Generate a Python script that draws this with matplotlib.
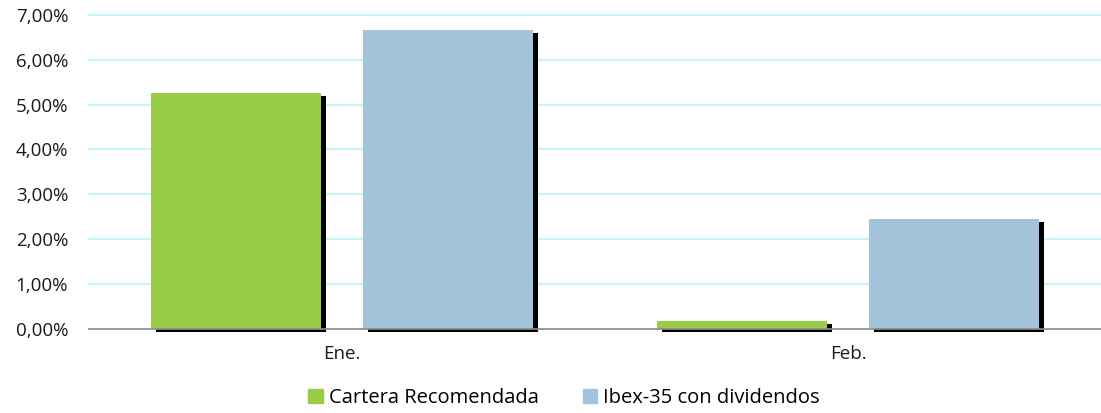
import numpy as np
import matplotlib
matplotlib.use("Agg")
import matplotlib.pyplot as plt
import matplotlib.patheffects as pe
from matplotlib.ticker import FuncFormatter

## Data
categories = ["Ene.", "Feb."]
series_names = ["Cartera Recomendada", "Ibex-35 con dividendos"]
cartera = [5.25, 0.18]
ibex = [6.67, 2.45]
y_ticks = [0, 1, 2, 3, 4, 5, 6, 7]

## Style
green, blue = "#9acd47", "#a3c4da"
plt.rcParams['font.family'] = ['Open Sans', 'DejaVu Sans']

fig = plt.figure(figsize=(11.01, 4.13), dpi=100)
ax = fig.add_axes([0.0808, 0.2044, 0.9192, 0.7593])

x = np.arange(len(categories))
width, offset = 0.336, 0.21
shadow = [pe.SimplePatchShadow(offset=(3.6, -2.2), shadow_rgbFace='black', alpha=1.0), pe.Normal()]
for vals, col, sign in [(cartera, green, -1), (ibex, blue, 1)]:
    bars = ax.bar(x + sign * offset, vals, width, color=col, zorder=2, clip_on=False)
    for b in bars:
        b.set_path_effects(shadow)

ax.set_xlim(-0.5, 1.5)
ax.set_ylim(0, 7)
ax.set_yticks(y_ticks)
ax.yaxis.set_major_formatter(FuncFormatter(lambda v, p: f"{v:.2f}%".replace(".", ",")))
ax.set_xticks(x)
ax.set_xticklabels(categories)
ax.tick_params(axis='both', length=0, labelsize=13.5, colors='#1a1a1a')
ax.tick_params(axis='y', pad=15)
ax.tick_params(axis='x', pad=12)
ax.grid(axis='y', color='#c4f6fb', linewidth=1.5, zorder=0)
for gl in ax.get_ygridlines():
    gl.set_clip_on(False)
ax.set_axisbelow(True)
for s in ['left', 'right', 'top']:
    ax.spines[s].set_visible(False)
ax.spines['bottom'].set_color('#8c8c8c')
ax.spines['bottom'].set_linewidth(1.2)
ax.spines['bottom'].set_zorder(3)

handles = [plt.Rectangle((0, 0), 1, 1, color=c) for c in (green, blue)]
fig.legend(handles, series_names, loc='center', bbox_to_anchor=(564 / 1101, 1 - 398 / 413),
           ncol=2, frameon=False, fontsize=14.5, handlelength=0.7, handleheight=0.7,
           handletextpad=0.3, columnspacing=2.2)

fig.savefig("out.png", dpi=100)
